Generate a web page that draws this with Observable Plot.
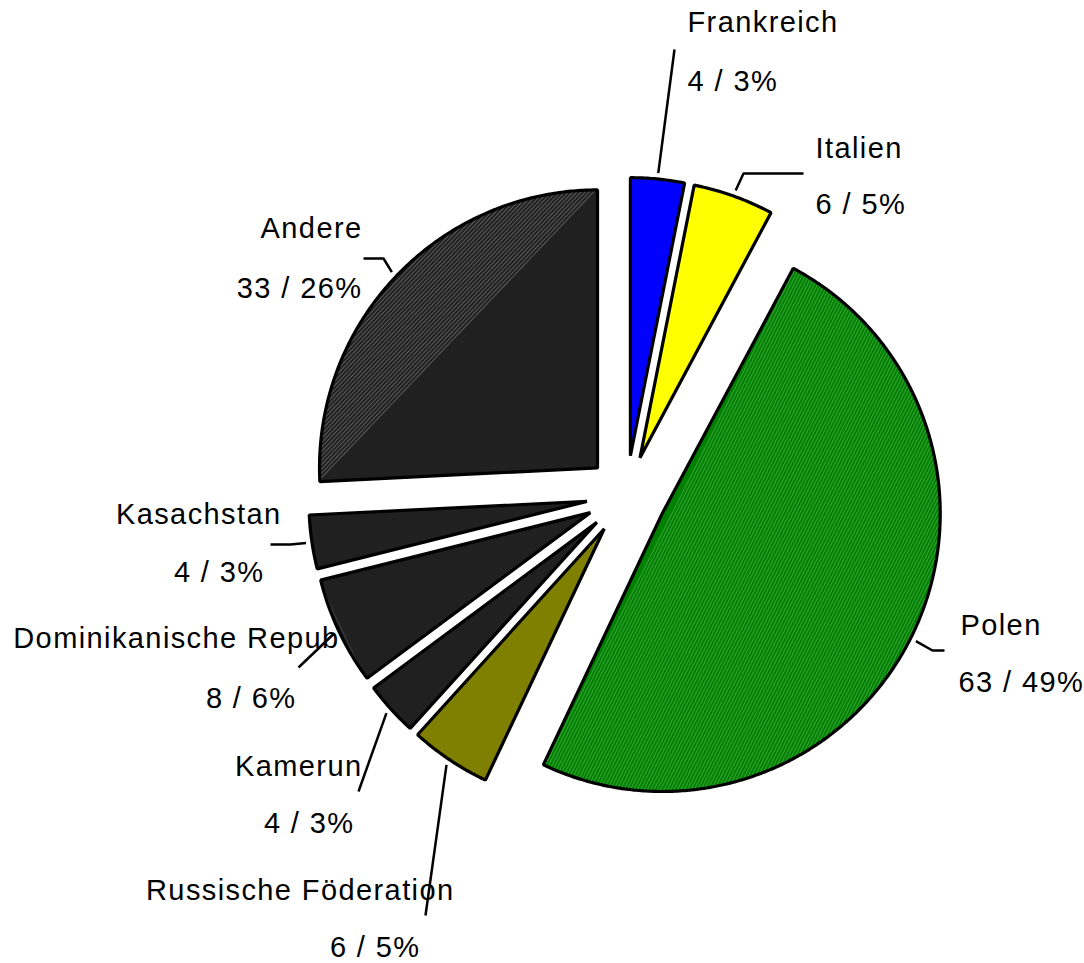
<!DOCTYPE html>
<html><head><meta charset="utf-8">
<script src="https://cdn.jsdelivr.net/npm/d3@7"></script>
<script src="https://cdn.jsdelivr.net/npm/@observablehq/plot@0.6"></script>
<style>
html,body{margin:0;padding:0;background:#fff;}
#chart{width:1084px;height:963px;}
</style></head><body><div id="chart"></div>
<script>
// ---- data ----
const countries = ["Frankreich","Italien","Polen","Russische Föderation","Kamerun","Dominikanische Repub","Kasachstan","Andere"];
const counts = [4, 6, 63, 6, 4, 8, 4, 33];

// ---- styles ----
const sliceColors = ["#0000ff","#ffff00","#008000","#808000","#202020","#202020","#202020","#202020"];
const hatchColors = ["#0000ff","#ffff00","#38a238","#808000","#3c3c3c","#3c3c3c","#3c3c3c","#5a5a5a"];

// ---- layout ----
const W = 1084, H = 963;
const cx = 626, cy = 495, R = 278, EXPLODE = 40;
const labelLayout = [
  {anchor:"start", nameX:687, nameY:31,  valX:687, valY:90,  path:[[674,49]]},
  {anchor:"start", nameX:815, nameY:157, valX:815, valY:213, path:[[743,173],[803,173]]},
  {anchor:"start", nameX:960, nameY:634, valX:958, valY:691, path:[[932,650],[944,650]]},
  {anchor:"end",   nameX:454, nameY:899, valX:420, valY:956, path:[[425,915]]},
  {anchor:"end",   nameX:362, nameY:775, valX:354, valY:832, path:[[358,791]]},
  {anchor:"end",   nameX:339, nameY:647, valX:296, valY:707, path:[[298,667]]},
  {anchor:"end",   nameX:281, nameY:523, valX:264, valY:581, path:[[290,544],[270,544]]},
  {anchor:"end",   nameX:362, nameY:237, valX:362, valY:297, path:[[383,258],[363,258]]}
];

const total = d3.sum(counts);
const pie = d3.pie().sort(null).value(d => d.count);
const slices = pie(countries.map((name, i) => ({name, count: counts[i], i})));
const pt = (ox, oy, a, r) => [ox + r * Math.sin(a), oy - r * Math.cos(a)];

const geom = slices.map((s, i) => {
  const mid = (s.startAngle + s.endAngle) / 2;
  const [ax, ay] = pt(cx, cy, mid, EXPLODE);
  const n = Math.max(2, Math.ceil((s.endAngle - s.startAngle) / (Math.PI / 360)));
  const arc = d3.range(n + 1).map(k => {
    const a = s.startAngle + (s.endAngle - s.startAngle) * k / n;
    const [x, y] = pt(ax, ay, a, R);
    return {x, y};
  });
  const [sx, sy] = pt(ax, ay, mid, R + 6);
  const lay = labelLayout[i];
  const leader = [{x: sx, y: sy}, ...lay.path.map(([x, y]) => ({x, y}))];
  const chordDeg = Math.atan2(arc[n].y - arc[0].y, arc[n].x - arc[0].x) * 180 / Math.PI;
  return {s, i, apex: {x: ax, y: ay}, arc, leader, chordDeg};
});

const marks = [];
geom.forEach(g => {
  const poly = [g.apex, ...g.arc];
  marks.push(Plot.line(poly, {x: "x", y: "y", curve: "linear-closed", fill: sliceColors[g.i], stroke: "none"}));
  marks.push(Plot.line(g.arc, {x: "x", y: "y", curve: "linear-closed", fill: `url(#hatch${g.i})`, stroke: "none"}));
  marks.push(Plot.line(poly, {x: "x", y: "y", curve: "linear-closed", fill: "none", stroke: "black", strokeWidth: 3.2, strokeLinejoin: "miter"}));
  marks.push(Plot.line(g.leader, {x: "x", y: "y", stroke: "black", strokeWidth: 2.5, strokeLinejoin: "miter", strokeLinecap: "butt"}));
});

const rows = [];
geom.forEach(g => {
  const lay = labelLayout[g.i];
  const v = counts[g.i];
  const pct = Math.round(v / total * 100);
  rows.push({anchor: lay.anchor, x: lay.nameX, y: lay.nameY, text: countries[g.i]});
  rows.push({anchor: lay.anchor, x: lay.valX, y: lay.valY, text: `${v} / ${pct}%`});
});
["start", "end"].forEach(anchor => {
  marks.push(Plot.text(rows.filter(r => r.anchor === anchor), {
    x: "x", y: "y", text: "text", textAnchor: anchor, lineAnchor: "bottom",
    fontSize: 29, fill: "black"
  }));
});

const svg = Plot.plot({
  width: W, height: H, margin: 0,
  x: {domain: [0, W], range: [0, W], axis: null},
  y: {domain: [0, H], range: [0, H], axis: null},
  style: {fontFamily: "'Liberation Sans', Arial, sans-serif", letterSpacing: "1.4px", background: "white", overflow: "visible"},
  marks
});

const defs = d3.select(svg).insert("defs", ":first-child");
geom.forEach(g => {
  const p = defs.append("pattern")
    .attr("id", `hatch${g.i}`)
    .attr("patternUnits", "userSpaceOnUse")
    .attr("width", 10).attr("height", 3)
    .attr("patternTransform", `rotate(${g.chordDeg})`);
  p.append("rect").attr("width", 10).attr("height", 3).attr("fill", sliceColors[g.i]);
  p.append("rect").attr("width", 10).attr("height", 1).attr("fill", hatchColors[g.i]);
});

document.getElementById("chart").appendChild(svg);
</script>
</body></html>
